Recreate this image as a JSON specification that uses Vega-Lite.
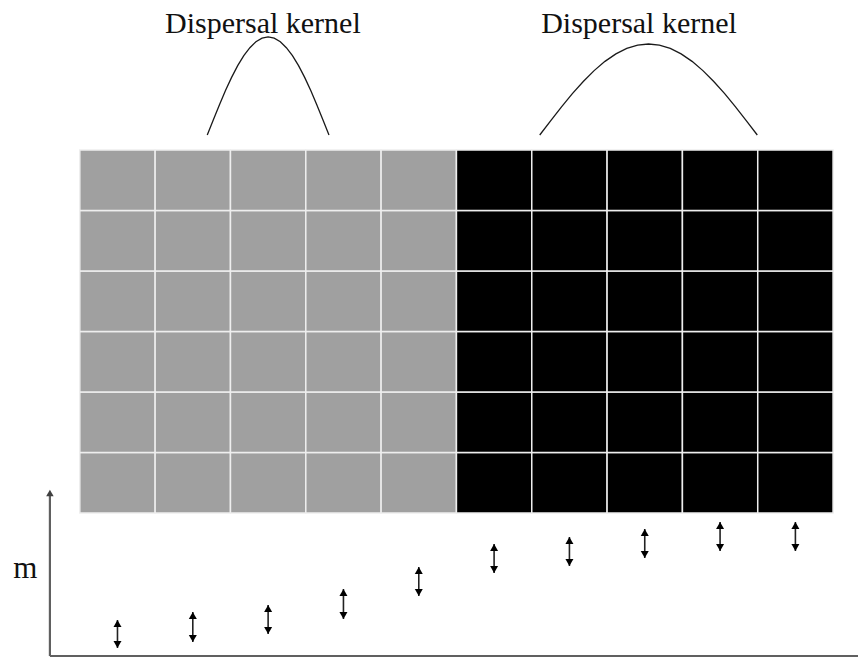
{
  "$schema": "https://vega.github.io/schema/vega-lite/v6.json",
  "width": 860,
  "height": 659,
  "padding": 0,
  "autosize": {"type": "fit", "contains": "padding"},
  "background": "white",
  "config": {"view": {"stroke": null}},
  "datasets": {
    "cells": [
      {"c":0,"r":0,"h":"g"},{"c":0,"r":1,"h":"g"},{"c":0,"r":2,"h":"g"},{"c":0,"r":3,"h":"g"},{"c":0,"r":4,"h":"g"},{"c":0,"r":5,"h":"g"},
      {"c":1,"r":0,"h":"g"},{"c":1,"r":1,"h":"g"},{"c":1,"r":2,"h":"g"},{"c":1,"r":3,"h":"g"},{"c":1,"r":4,"h":"g"},{"c":1,"r":5,"h":"g"},
      {"c":2,"r":0,"h":"g"},{"c":2,"r":1,"h":"g"},{"c":2,"r":2,"h":"g"},{"c":2,"r":3,"h":"g"},{"c":2,"r":4,"h":"g"},{"c":2,"r":5,"h":"g"},
      {"c":3,"r":0,"h":"g"},{"c":3,"r":1,"h":"g"},{"c":3,"r":2,"h":"g"},{"c":3,"r":3,"h":"g"},{"c":3,"r":4,"h":"g"},{"c":3,"r":5,"h":"g"},
      {"c":4,"r":0,"h":"g"},{"c":4,"r":1,"h":"g"},{"c":4,"r":2,"h":"g"},{"c":4,"r":3,"h":"g"},{"c":4,"r":4,"h":"g"},{"c":4,"r":5,"h":"g"},
      {"c":5,"r":0,"h":"b"},{"c":5,"r":1,"h":"b"},{"c":5,"r":2,"h":"b"},{"c":5,"r":3,"h":"b"},{"c":5,"r":4,"h":"b"},{"c":5,"r":5,"h":"b"},
      {"c":6,"r":0,"h":"b"},{"c":6,"r":1,"h":"b"},{"c":6,"r":2,"h":"b"},{"c":6,"r":3,"h":"b"},{"c":6,"r":4,"h":"b"},{"c":6,"r":5,"h":"b"},
      {"c":7,"r":0,"h":"b"},{"c":7,"r":1,"h":"b"},{"c":7,"r":2,"h":"b"},{"c":7,"r":3,"h":"b"},{"c":7,"r":4,"h":"b"},{"c":7,"r":5,"h":"b"},
      {"c":8,"r":0,"h":"b"},{"c":8,"r":1,"h":"b"},{"c":8,"r":2,"h":"b"},{"c":8,"r":3,"h":"b"},{"c":8,"r":4,"h":"b"},{"c":8,"r":5,"h":"b"},
      {"c":9,"r":0,"h":"b"},{"c":9,"r":1,"h":"b"},{"c":9,"r":2,"h":"b"},{"c":9,"r":3,"h":"b"},{"c":9,"r":4,"h":"b"},{"c":9,"r":5,"h":"b"}
    ],
    "kernels": [
      {"k":"left","x":1.692,"y":6.248},{"k":"left","x":1.773,"y":6.501},{"k":"left","x":1.854,"y":6.749},{"k":"left","x":1.934,"y":6.984},
      {"k":"left","x":2.015,"y":7.200},{"k":"left","x":2.096,"y":7.394},{"k":"left","x":2.177,"y":7.559},{"k":"left","x":2.258,"y":7.691},
      {"k":"left","x":2.338,"y":7.789},{"k":"left","x":2.419,"y":7.848},{"k":"left","x":2.500,"y":7.868},{"k":"left","x":2.581,"y":7.848},
      {"k":"left","x":2.662,"y":7.789},{"k":"left","x":2.742,"y":7.691},{"k":"left","x":2.823,"y":7.559},{"k":"left","x":2.904,"y":7.394},
      {"k":"left","x":2.985,"y":7.200},{"k":"left","x":3.066,"y":6.984},{"k":"left","x":3.146,"y":6.749},{"k":"left","x":3.227,"y":6.501},
      {"k":"left","x":3.308,"y":6.248},
      {"k":"right","x":6.106,"y":6.248},{"k":"right","x":6.250,"y":6.483},{"k":"right","x":6.395,"y":6.713},{"k":"right","x":6.539,"y":6.931},
      {"k":"right","x":6.684,"y":7.132},{"k":"right","x":6.828,"y":7.312},{"k":"right","x":6.972,"y":7.465},{"k":"right","x":7.117,"y":7.588},
      {"k":"right","x":7.261,"y":7.678},{"k":"right","x":7.406,"y":7.734},{"k":"right","x":7.550,"y":7.752},{"k":"right","x":7.694,"y":7.734},
      {"k":"right","x":7.839,"y":7.678},{"k":"right","x":7.983,"y":7.588},{"k":"right","x":8.128,"y":7.465},{"k":"right","x":8.272,"y":7.312},
      {"k":"right","x":8.416,"y":7.132},{"k":"right","x":8.561,"y":6.931},{"k":"right","x":8.705,"y":6.713},{"k":"right","x":8.850,"y":6.483},
      {"k":"right","x":8.994,"y":6.248}
    ],
    "labels": [
      {"t":"Dispersal kernel","x":2.430,"y":7.934},
      {"t":"Dispersal kernel","x":7.424,"y":7.934}
    ],
    "arrows": [
      {"c":0.5,"lo":-2.231,"hi":-1.769},
      {"c":1.5,"lo":-2.132,"hi":-1.636},
      {"c":2.5,"lo":-2.000,"hi":-1.521},
      {"c":3.5,"lo":-1.752,"hi":-1.256},
      {"c":4.5,"lo":-1.372,"hi":-0.893},
      {"c":5.5,"lo":-0.992,"hi":-0.512},
      {"c":6.5,"lo":-0.876,"hi":-0.397},
      {"c":7.5,"lo":-0.744,"hi":-0.264},
      {"c":8.5,"lo":-0.628,"hi":-0.149},
      {"c":9.5,"lo":-0.628,"hi":-0.149}
    ],
    "axes": [
      {"x":-0.397,"y":-2.364,"x2":-0.397,"y2":0.33},
      {"x":-0.397,"y":-2.364,"x2":10.331,"y2":-2.364}
    ],
    "axistip": [{"x":-0.397,"y":0.380}],
    "mlabel": [{"t":"m","x":-0.722,"y":-1.074}]
  },
  "layer": [
    {
      "data": {"name": "cells"},
      "transform": [
        {"calculate": "datum.c + 1", "as": "c2"},
        {"calculate": "datum.r + 1", "as": "r2"}
      ],
      "mark": {"type": "rect", "stroke": "#eeeeee", "strokeWidth": 1.5},
      "encoding": {
        "x": {"field": "c", "type": "quantitative", "scale": {"domain": [-1.0596, 10.3311], "nice": false, "zero": false}, "axis": null},
        "x2": {"field": "c2"},
        "y": {"field": "r", "type": "quantitative", "scale": {"domain": [-2.4132, 8.4793], "nice": false, "zero": false}, "axis": null},
        "y2": {"field": "r2"},
        "color": {"field": "h", "type": "nominal", "scale": {"domain": ["g", "b"], "range": ["#a0a0a0", "#000000"]}, "legend": null}
      }
    },
    {
      "data": {"name": "kernels"},
      "mark": {"type": "line", "color": "#1a1a1a", "strokeWidth": 1.3},
      "encoding": {
        "x": {"field": "x", "type": "quantitative", "axis": null},
        "y": {"field": "y", "type": "quantitative", "axis": null},
        "detail": {"field": "k"}
      }
    },
    {
      "data": {"name": "labels"},
      "mark": {"type": "text", "font": "Liberation Serif", "fontSize": 30, "align": "center", "baseline": "alphabetic", "color": "#111111"},
      "encoding": {
        "x": {"field": "x", "type": "quantitative", "axis": null},
        "y": {"field": "y", "type": "quantitative", "axis": null},
        "text": {"field": "t"}
      }
    },
    {
      "data": {"name": "axes"},
      "mark": {"type": "rule", "color": "#606060", "strokeWidth": 2.2},
      "encoding": {
        "x": {"field": "x", "type": "quantitative", "axis": null},
        "y": {"field": "y", "type": "quantitative", "axis": null},
        "x2": {"field": "x2"},
        "y2": {"field": "y2"}
      }
    },
    {
      "data": {"name": "axistip"},
      "mark": {"type": "point", "shape": "triangle-up", "filled": true, "color": "#404040", "size": 56, "opacity": 1, "yOffset": 3},
      "encoding": {
        "x": {"field": "x", "type": "quantitative", "axis": null},
        "y": {"field": "y", "type": "quantitative", "axis": null}
      }
    },
    {
      "data": {"name": "mlabel"},
      "mark": {"type": "text", "font": "Liberation Serif", "fontSize": 31, "align": "center", "baseline": "alphabetic", "color": "#111111"},
      "encoding": {
        "x": {"field": "x", "type": "quantitative", "axis": null},
        "y": {"field": "y", "type": "quantitative", "axis": null},
        "text": {"field": "t"}
      }
    },
    {
      "data": {"name": "arrows"},
      "mark": {"type": "rule", "color": "#222222", "strokeWidth": 1.6},
      "encoding": {
        "x": {"field": "c", "type": "quantitative", "axis": null},
        "y": {"field": "lo", "type": "quantitative", "axis": null},
        "y2": {"field": "hi"}
      }
    },
    {
      "data": {"name": "arrows"},
      "mark": {"type": "point", "shape": "triangle-up", "filled": true, "color": "#000000", "size": 64, "opacity": 1, "yOffset": 3.5},
      "encoding": {
        "x": {"field": "c", "type": "quantitative", "axis": null},
        "y": {"field": "hi", "type": "quantitative", "axis": null}
      }
    },
    {
      "data": {"name": "arrows"},
      "mark": {"type": "point", "shape": "triangle-down", "filled": true, "color": "#000000", "size": 64, "opacity": 1, "yOffset": -3.5},
      "encoding": {
        "x": {"field": "c", "type": "quantitative", "axis": null},
        "y": {"field": "lo", "type": "quantitative", "axis": null}
      }
    }
  ]
}
